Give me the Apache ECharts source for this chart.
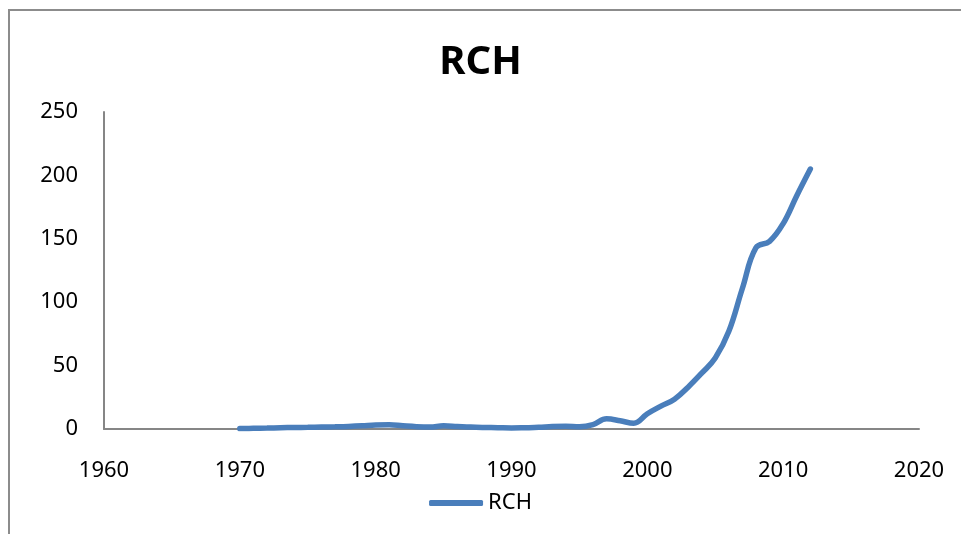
<!DOCTYPE html>
<html>
<head>
<meta charset="utf-8">
<script src="https://cdn.jsdelivr.net/npm/echarts@6/dist/echarts.min.js"></script>
<style>
    html, body { margin: 0; padding: 0; background: #fff; }
    #main { width: 961px; height: 534px; }
</style>
</head>
<body>
<div id="main"></div>
<script>
// 年份与数值
var years = [1970, 1971, 1972, 1973, 1974, 1975, 1976, 1977, 1978, 1979,
    1980, 1981, 1982, 1983, 1984, 1985, 1986, 1987, 1988, 1989,
    1990, 1991, 1992, 1993, 1994, 1995, 1996, 1997, 1998, 1999,
    2000, 2001, 2002, 2003, 2004, 2005, 2006, 2007, 2008, 2009,
    2010, 2011, 2012];
var rch = [0.3, 0.5, 0.7, 1, 1.2, 1.3, 1.5, 1.7, 2, 2.5,
    3.2, 3.3, 2.5, 1.8, 1.5, 2.5, 2, 1.5, 1.2, 1,
    0.8, 1, 1.3, 2, 2.2, 1.8, 3.5, 8, 6.5, 4.5,
    12, 18, 23.5, 33, 44, 56, 77, 111, 143, 148,
    162, 184, 205];
var seriesName = 'RCH';

var points = years.map(function (y, i) {
    return [y, rch[i]];
});

var myChart = echarts.init(document.getElementById('main'));
var font = '"Noto Sans", "Liberation Sans", sans-serif';
var option = {
    animation: false,
    backgroundColor: '#fff',
    graphic: [{
        type: 'rect',
        shape: { x: 9, y: 10, width: 1000, height: 600 },
        style: { fill: 'none', stroke: '#8c8c8c', lineWidth: 2 },
        silent: true
    }],
    title: {
        text: 'RCH',
        left: 'center',
        top: 38,
        textStyle: { fontFamily: font, fontSize: 40, fontWeight: 'bold', color: '#000' }
    },
    legend: {
        bottom: 15,
        left: 'center',
        itemWidth: 54,
        itemHeight: 6,
        itemGap: 6,
        data: [{ name: seriesName, icon: 'roundRect' }],
        textStyle: { fontFamily: font, fontSize: 22, color: '#000' }
    },
    grid: { left: 104, top: 112, right: 42, bottom: 105 },
    xAxis: {
        type: 'value',
        min: 1960,
        max: 2020,
        interval: 10,
        axisLine: { show: true, onZero: false, lineStyle: { color: '#868686', width: 2 } },
        axisTick: { show: false },
        splitLine: { show: false },
        axisLabel: {
            margin: 31, fontFamily: font, fontSize: 22, color: '#000',
            formatter: function (v) { return String(v); }
        }
    },
    yAxis: {
        type: 'value',
        min: 0,
        max: 250,
        interval: 50,
        axisLine: { show: true, lineStyle: { color: '#868686', width: 2 } },
        axisTick: { show: false },
        splitLine: { show: false },
        axisLabel: { margin: 26, fontFamily: font, fontSize: 22, color: '#000' }
    },
    series: [{
        name: seriesName,
        type: 'line',
        data: points,
        smooth: 0.4,
        symbol: 'none',
        lineStyle: { color: '#4a7ebb', width: 5.5, cap: 'round' },
        itemStyle: { color: '#4a7ebb' }
    }]
};
myChart.setOption(option);
</script>
</body>
</html>
